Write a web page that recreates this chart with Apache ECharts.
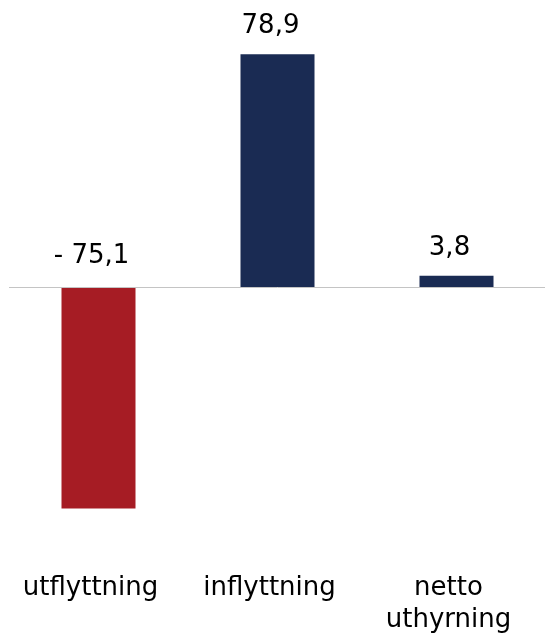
<!DOCTYPE html>
<html>
<head>
<meta charset="utf-8">
<script src="https://cdn.jsdelivr.net/npm/echarts@6/dist/echarts.min.js"></script>
<style>
  html, body { margin: 0; padding: 0; background: #ffffff; }
  #chart { width: 545px; height: 635px; }
</style>
</head>
<body>
<div id="chart"></div>
<script>
// Flows, in the order they are drawn
const categories = ['utflyttning', 'inflyttning', 'netto\nuthyrning'];
const values = [-75.1, 78.9, 3.8];
const barColors = ['#a61c24', '#1a2b53', '#1a2b53'];

function formatValue(v) {
  const s = Math.abs(v).toFixed(1).replace('.', ',');
  return v < 0 ? '- ' + s : s;
}

const chart = echarts.init(document.getElementById('chart'), null, { renderer: 'canvas' });

chart.setOption({
  animation: false,
  grid: { left: 9, right: -1, top: 51, bottom: 112, outerBoundsMode: 'none', containLabel: false },
  xAxis: {
    type: 'category',
    data: categories,
    axisLine: { show: false, onZero: false },
    axisTick: { show: false },
    axisLabel: {
      interval: 0,
      margin: 49,
      color: '#000000',
      fontFamily: 'DejaVu Sans',
      fontSize: 26,
      lineHeight: 32,
      align: 'center',
      padding: [0, 16, 0, 0]
    }
  },
  yAxis: {
    type: 'value',
    min: -80,
    max: 80,
    show: false,
    splitLine: { show: false }
  },
  series: [{
    type: 'bar',
    barWidth: 74,
    data: values.map((v, i) => ({
      value: v,
      itemStyle: { color: barColors[i] },
      // negative values sit above the baseline, a little further up
      label: { distance: v < 0 ? 18 : 15 }
    })),
    label: {
      show: true,
      position: 'top',
      distance: 15,
      color: '#000000',
      fontFamily: 'DejaVu Sans',
      fontSize: 26,
      padding: [0, 14, 0, 0],
      formatter: p => formatValue(p.value)
    },
    // zero baseline across the plot
    markLine: {
      silent: true,
      symbol: 'none',
      label: { show: false },
      lineStyle: { color: '#c4c4c4', width: 1, type: 'solid' },
      data: [{ yAxis: 0 }]
    }
  }]
});
</script>
</body>
</html>
